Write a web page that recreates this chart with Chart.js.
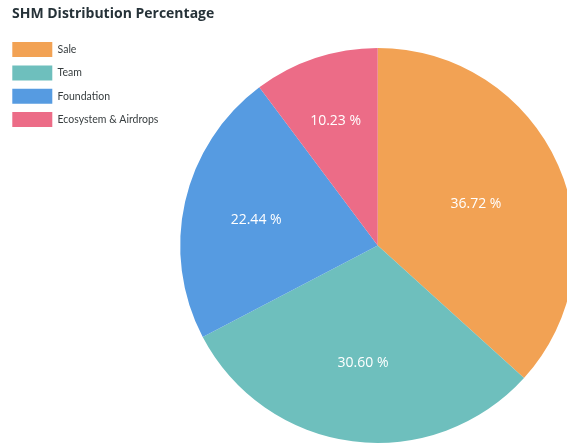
<!DOCTYPE html>
<html><head><meta charset="utf-8">
<script src="https://cdn.jsdelivr.net/npm/chart.js@4.4.1/dist/chart.umd.min.js"></script>
<style>
html,body{margin:0;padding:0;overflow:hidden;background:#fff;width:567px;height:445px}
#wrap{position:absolute;left:0;top:0;width:579px;height:457px}
</style>
</head><body><div id="wrap"><canvas id="c"></canvas></div>
<script>
const categories = ['Sale', 'Team', 'Foundation', 'Ecosystem & Airdrops'];
const percentages = [36.72, 30.60, 22.44, 10.23];
const valueLabels = ['36.72 %', '30.60 %', '22.44 %', '10.23 %'];
const sliceColors = ['#f2a254', '#6ebfbd', '#569be1', '#ec6c87'];
const chartTitle = 'SHM Distribution Percentage';

const FONT = '"Open Sans", "Noto Sans", sans-serif';
const LEGEND_FONT = 'Lato, "Open Sans", sans-serif';

const sliceLabels = {
  id: 'sliceLabels',
  afterDatasetsDraw(chart) {
    const ctx = chart.ctx;
    const meta = chart.getDatasetMeta(0);
    ctx.save();
    ctx.font = '14px ' + FONT;
    ctx.fillStyle = '#ffffff';
    ctx.textAlign = 'center';
    ctx.textBaseline = 'middle';
    meta.data.forEach((arc, i) => {
      const p = arc.getProps(['x', 'y', 'startAngle', 'endAngle', 'outerRadius'], true);
      const half = (p.endAngle - p.startAngle) / 2;
      const mid = p.startAngle + half;
      const d = 1.03 * 2 * p.outerRadius * Math.sin(half) / (3 * half);
      ctx.fillText(valueLabels[i], p.x + d * Math.cos(mid), p.y + d * Math.sin(mid) + 2.5);
    });
    ctx.restore();
  }
};

const legendShift = {
  id: 'legendShift',
  afterLayout(chart) {
    const lg = chart.legend;
    if (lg) { lg.left -= 8; lg.right -= 8; }
  }
};

new Chart(document.getElementById('c'), {
  type: 'pie',
  data: {
    labels: categories,
    datasets: [{
      data: percentages,
      backgroundColor: sliceColors,
      borderWidth: 0
    }]
  },
  options: {
    responsive: true,
    maintainAspectRatio: false,
    animation: false,
    radius: 197.5,
    layout: { padding: { left: 12, top: 6, right: 0, bottom: 0 } },
    plugins: {
      title: {
        display: true,
        text: chartTitle,
        align: 'start',
        color: '#263238',
        font: { family: FONT, size: 14, weight: 'bold' },
        padding: { top: 0, bottom: 11 }
      },
      legend: {
        position: 'left',
        align: 'start',
        fullSize: false,
        labels: {
          boxWidth: 40,
          boxHeight: 15,
          padding: 8.3,
          color: '#373d3f',
          font: { family: LEGEND_FONT, size: 10.5 }
        }
      },
      tooltip: { enabled: false }
    }
  },
  plugins: [sliceLabels, legendShift]
});
</script>
</body></html>
